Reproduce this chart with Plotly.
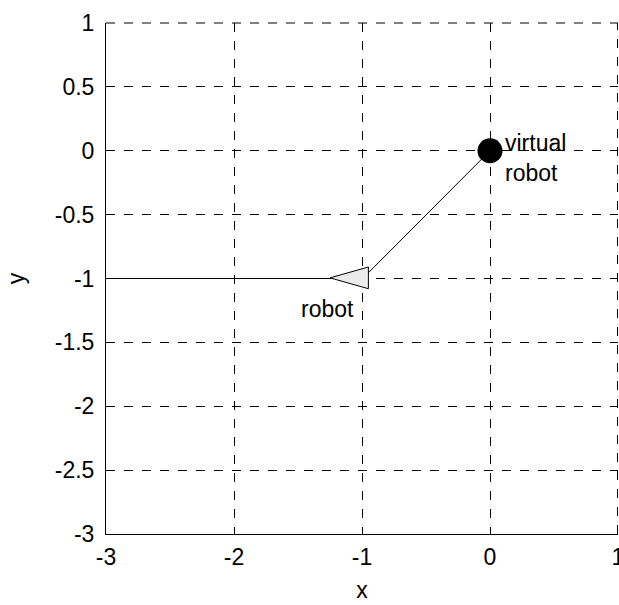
import plotly.graph_objects as go

# Data
path_x = [-3.0, -1.25]
path_y = [-1.0, -1.0]
link_x = [-0.95, 0.0]
link_y = [-0.955, 0.0]
robot_tri_x = [-1.25, -0.95, -0.95, -1.25]
robot_tri_y = [-0.995, -0.91, -1.08, -0.995]
virtual_x = [0.0]
virtual_y = [0.0]
tick_vals_x = [-3, -2, -1, 0, 1]
tick_text_x = ["-3", "-2", "-1", "0", "1"]
tick_vals_y = [-3, -2.5, -2, -1.5, -1, -0.5, 0, 0.5, 1]
tick_text_y = ["-3", "-2.5", "-2", "-1.5", "-1", "-0.5", "0", "0.5", "1"]

FONT = "Liberation Sans, Arial, Helvetica, sans-serif"

fig = go.Figure()
fig.add_trace(go.Scatter(x=path_x, y=path_y, mode="lines",
                         line=dict(color="black", width=1), showlegend=False))
fig.add_trace(go.Scatter(x=link_x, y=link_y, mode="lines",
                         line=dict(color="black", width=1), showlegend=False))
fig.add_trace(go.Scatter(x=robot_tri_x, y=robot_tri_y, mode="lines", fill="toself",
                         fillcolor="#ebebeb", line=dict(color="black", width=1),
                         showlegend=False))
fig.add_trace(go.Scatter(x=virtual_x, y=virtual_y, mode="markers",
                         marker=dict(color="black", size=25), showlegend=False))

fig.add_annotation(x=0.1, y=0.11, xref="x", yref="y", text="virtual<br>robot",
                   showarrow=False, xanchor="left", yanchor="top", align="left",
                   font=dict(family=FONT, size=23, color="black"), yshift=9)
fig.add_annotation(x=-1.49, y=-1.25, xref="x", yref="y", text="robot",
                   showarrow=False, xanchor="left", yanchor="middle",
                   font=dict(family=FONT, size=23, color="black"), yshift=1)

# dashed grid lines along the top and right edges of the axes box
for s in [dict(x0=0.999, x1=0.999, y0=0, y1=1), dict(x0=0, x1=1, y0=1, y1=1)]:
    fig.add_shape(type="line", xref="paper", yref="paper",
                  line=dict(color="black", width=1, dash="dash"), **s)

axis_common = dict(showgrid=True, gridcolor="black", griddash="dash", gridwidth=1,
                   zeroline=False, showline=True, linecolor="black", linewidth=1,
                   ticks="inside", ticklen=5, tickcolor="black", automargin=False,
                   ticklabeloverflow="allow",
                   tickfont=dict(family=FONT, size=23, color="black"))

fig.update_xaxes(range=[-3, 1], tickvals=tick_vals_x, ticktext=tick_text_x,
                 ticklabelstandoff=2,
                 title=dict(text="x", font=dict(family=FONT, size=23, color="black"), standoff=13),
                 **axis_common)
fig.update_yaxes(range=[-3, 1], tickvals=tick_vals_y, ticktext=tick_text_y,
                 ticklabelstandoff=6,
                 title=dict(text="y", font=dict(family=FONT, size=23, color="black"), standoff=23),
                 **axis_common)

fig.update_layout(width=619, height=605, margin=dict(l=106, r=1, t=23, b=71),
                  plot_bgcolor="white", paper_bgcolor="white",
                  font=dict(family=FONT, color="black"))

fig.write_html("out.html", config={"displayModeBar": False},
               post_script="document.body.style.margin='0px';document.body.style.overflow='hidden';")
